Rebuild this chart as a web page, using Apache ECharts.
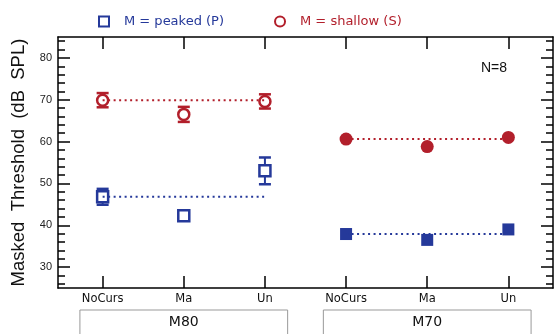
<!DOCTYPE html>
<html>
<head>
<meta charset="utf-8">
<script src="https://cdn.jsdelivr.net/npm/echarts@6/dist/echarts.min.js"></script>
<style>
html, body { margin: 0; padding: 0; background: #fff; }
#chart { width: 555px; height: 334px; }
</style>
</head>
<body>
<div id="chart"></div>
<script>
// 条件 与 分组
const conditions = ['NoCurs', 'Ma', 'Un'];
const groups = ['M80', 'M70'];

// M = peaked (P)：均值 / 误差
const peakedM80 = [46.8, 42.3, 53.0];
const peakedM80Err = [1.9, 0.6, 3.2];
const peakedM70 = [37.9, 36.5, 39.0];
const peakedM70Err = [1.0, 0.6, 1.0];

// M = shallow (S)：均值 / 误差
const shallowM80 = [69.9, 66.5, 69.6];
const shallowM80Err = [1.7, 1.8, 1.7];
const shallowM70 = [60.6, 58.8, 61.0];
const shallowM70Err = [0.3, 0.3, 0.3];

// y轴刻度
const yTicks = [30, 40, 50, 60, 70, 80];
const yMinorTicks = [26, 28, 32, 34, 36, 38, 42, 44, 46, 48, 52, 54, 56, 58, 62, 64, 66, 68, 72, 74, 76, 78, 82, 84];

const BLUE = '#25399a';
const RED = '#b21f2b';
const FONT = 'DejaVu Sans';

// 每组在x轴上的位置 1..3 / 4..6
const xPos = (g) => conditions.map((c, i) => g * 3 + i + 1);
const allX = [...xPos(0), ...xPos(1)];

const myChart = echarts.init(document.getElementById('chart'));

// 误差棒
const errSeries = (xs, ys, es, color, hw) => ({
    type: 'custom',
    silent: true,
    z: 2,
    encode: { x: 0, y: 1 },
    data: ys.map((v, i) => [xs[i], v, es[i]]),
    renderItem: (params, api) => {
        const x = api.value(0), y = api.value(1), e = api.value(2);
        const top = api.coord([x, y + e]);
        const bot = api.coord([x, y - e]);
        const st = { stroke: color, lineWidth: 2.5 };
        return {
            type: 'group',
            children: [
                { type: 'line', shape: { x1: top[0], y1: top[1], x2: bot[0], y2: bot[1] }, style: { stroke: color, lineWidth: 2 } },
                { type: 'line', shape: { x1: top[0] - hw, y1: top[1], x2: top[0] + hw, y2: top[1] }, style: st },
                { type: 'line', shape: { x1: bot[0] - hw, y1: bot[1], x2: bot[0] + hw, y2: bot[1] }, style: st }
            ]
        };
    }
});

// 标记点
const markSeries = (name, xs, ys, symbol, size, color, hollow) => ({
    name: name,
    type: 'scatter',
    symbol: symbol,
    symbolSize: size,
    z: 3,
    data: ys.map((v, i) => [xs[i], v]),
    itemStyle: hollow
        ? { color: '#fff', borderColor: color, borderWidth: 2.5, opacity: 1 }
        : { color: color, opacity: 1 },
    emphasis: { disabled: true }
});

// 虚线参考线（以 NoCurs 值为准）
const refLine = (xs, ys, color) => ({
    type: 'line',
    z: 4,
    silent: true,
    symbol: 'none',
    data: [[xs[0], ys[0]], [xs[2], ys[0]]],
    lineStyle: { color: color, width: 2, type: [2, 3.5] }
});

const xBase = {
    type: 'value',
    min: 0.45,
    max: 6.55,
    splitLine: { show: false },
    axisLine: { show: true, onZero: false, lineStyle: { color: '#000', width: 1.5 } },
    axisTick: { show: true, inside: true, length: 12, customValues: allX, lineStyle: { color: '#000', width: 1.5 } }
};

const yBase = {
    type: 'value',
    min: 25,
    max: 85,
    splitLine: { show: false }
};

const options = {
    animation: false,
    grid: { left: 58, right: 2, top: 37, bottom: 46, containLabel: false },
    legend: {
        top: 10,
        left: 93,
        itemWidth: 10,
        itemHeight: 10,
        itemGap: 50,
        selectedMode: false,
        textStyle: { fontFamily: FONT, fontSize: 13, padding: [0, 0, 0, 10] },
        data: [
            { name: 'M = peaked (P)', textStyle: { color: BLUE } },
            { name: 'M = shallow (S)', textStyle: { color: RED } }
        ]
    },
    xAxis: [
        Object.assign({}, xBase, {
            position: 'bottom',
            axisLabel: {
                customValues: allX,
                formatter: (v) => conditions[(Math.round(v) - 1) % 3],
                color: '#111',
                fontFamily: FONT,
                fontSize: 11.5,
                margin: 5
            }
        }),
        Object.assign({}, xBase, { position: 'top', axisLabel: { show: false } })
    ],
    yAxis: [
        Object.assign({}, yBase, {
            position: 'left',
            name: 'Masked  Threshold  (dB  SPL)',
            nameLocation: 'middle',
            nameGap: 26,
            nameTextStyle: { fontFamily: 'Liberation Sans', fontSize: 18.5, color: '#111' },
            axisLine: { show: true, lineStyle: { color: '#000', width: 1.5 } },
            axisTick: { show: true, inside: true, length: 12, customValues: yTicks, lineStyle: { color: '#000', width: 1.5 } },
            axisLabel: { customValues: yTicks, color: '#222', fontFamily: 'Liberation Sans', fontSize: 11, margin: 6 }
        }),
        Object.assign({}, yBase, {
            position: 'left',
            axisLine: { show: false },
            axisTick: { show: true, inside: true, length: 7, customValues: yMinorTicks, lineStyle: { color: '#000', width: 1.5 } },
            axisLabel: { show: false }
        }),
        Object.assign({}, yBase, {
            position: 'right',
            axisLine: { show: true, lineStyle: { color: '#000', width: 1.5 } },
            axisTick: { show: true, inside: true, length: 12, customValues: yTicks, lineStyle: { color: '#000', width: 1.5 } },
            axisLabel: { show: false }
        }),
        Object.assign({}, yBase, {
            position: 'right',
            axisLine: { show: false },
            axisTick: { show: true, inside: true, length: 7, customValues: yMinorTicks, lineStyle: { color: '#000', width: 1.5 } },
            axisLabel: { show: false }
        })
    ],
    series: [
        errSeries(xPos(0), peakedM80, peakedM80Err, BLUE, 6),
        errSeries(xPos(0), shallowM80, shallowM80Err, RED, 6),
        errSeries(xPos(1), peakedM70, peakedM70Err, BLUE, 5),
        errSeries(xPos(1), shallowM70, shallowM70Err, RED, 3),
        markSeries('M = peaked (P)', xPos(0), peakedM80, 'rect', 11, BLUE, true),
        markSeries('M = shallow (S)', xPos(0), shallowM80, 'circle', 11, RED, true),
        markSeries('peaked M70', xPos(1), peakedM70, 'rect', 12, BLUE, false),
        markSeries('shallow M70', xPos(1), shallowM70, 'circle', 13, RED, false),
        refLine(xPos(0), peakedM80, BLUE),
        refLine(xPos(0), shallowM80, RED),
        refLine(xPos(1), peakedM70, BLUE),
        refLine(xPos(1), shallowM70, RED)
    ]
};

myChart.setOption(options);

// 分组框（M80 / M70）与 N=8 标注
const boxHalf = 1.28;
const graphics = groups.map((g, gi) => {
    const c = myChart.convertToPixel({ xAxisIndex: 0 }, gi * 3 + 2);
    const l = myChart.convertToPixel({ xAxisIndex: 0 }, gi * 3 + 2 - boxHalf);
    const r = myChart.convertToPixel({ xAxisIndex: 0 }, gi * 3 + 2 + boxHalf);
    return {
        type: 'group',
        children: [
            { type: 'rect', shape: { x: l, y: 310, width: r - l, height: 30 }, style: { fill: 'none', stroke: '#999', lineWidth: 1 } },
            { type: 'text', x: c, y: 322, style: { text: g, font: '14px "DejaVu Sans"', fill: '#111', align: 'center', verticalAlign: 'middle' } }
        ]
    };
});
graphics.push({
    type: 'text', right: 48, top: 61,
    style: { text: 'N=8', font: '14px "Liberation Sans"', fill: '#111' }
});
myChart.setOption({ graphic: graphics });
</script>
</body>
</html>
